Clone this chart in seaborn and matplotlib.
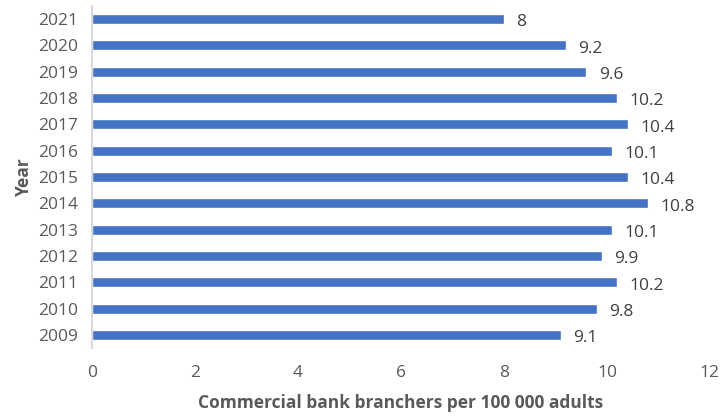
import matplotlib
matplotlib.use("Agg")
import matplotlib.pyplot as plt
import seaborn as sns
import pandas as pd

years = ["2021", "2020", "2019", "2018", "2017", "2016", "2015", "2014", "2013", "2012", "2011", "2010", "2009"]
values = [8, 9.2, 9.6, 10.2, 10.4, 10.1, 10.4, 10.8, 10.1, 9.9, 10.2, 9.8, 9.1]
labels = ["8", "9.2", "9.6", "10.2", "10.4", "10.1", "10.4", "10.8", "10.1", "9.9", "10.2", "9.8", "9.1"]
xticks = [0, 2, 4, 6, 8, 10, 12]

sns.set_theme(style="white")
plt.rcParams["font.family"] = ["Open Sans", "DejaVu Sans"]
txt = "#595959"

df = pd.DataFrame({"Year": years, "Value": values})
fig = plt.figure(figsize=(7.2, 4.17), dpi=100)
ax = fig.add_axes([0.128, 0.165, 0.858, 0.821])
sns.barplot(data=df, x="Value", y="Year", order=years, color="#4472C4",
            saturation=1, width=0.38, ax=ax)

for i, (v, lab) in enumerate(zip(values, labels)):
    ax.annotate(lab, (v, i), xytext=(9, -2.5), textcoords="offset points",
                ha="left", va="center", fontsize=12.5, color="#404040")

ax.set_xlim(0, 12)
ax.set_ylim(12.5, -0.5)
ax.set_xticks(xticks)
ax.set_xticklabels([str(t) for t in xticks])
ax.tick_params(axis="x", colors=txt, labelsize=12.5, length=0, pad=12)
ax.tick_params(axis="y", colors=txt, labelsize=12.5, length=0, pad=10)
for s in ["top", "right", "bottom"]:
    ax.spines[s].set_visible(False)
ax.spines["left"].set_color("#D9D9D9")
ax.spines["left"].set_linewidth(1.5)
ax.set_xlabel("Commercial bank branchers per 100 000 adults", fontsize=12.5,
              fontweight="bold", color=txt)
ax.set_ylabel("Year", fontsize=12.5, fontweight="bold", color=txt)
ax.xaxis.set_label_coords(0.5, -0.135)
ax.yaxis.set_label_coords(-0.095, 0.5)
fig.savefig("out.png", dpi=100)
